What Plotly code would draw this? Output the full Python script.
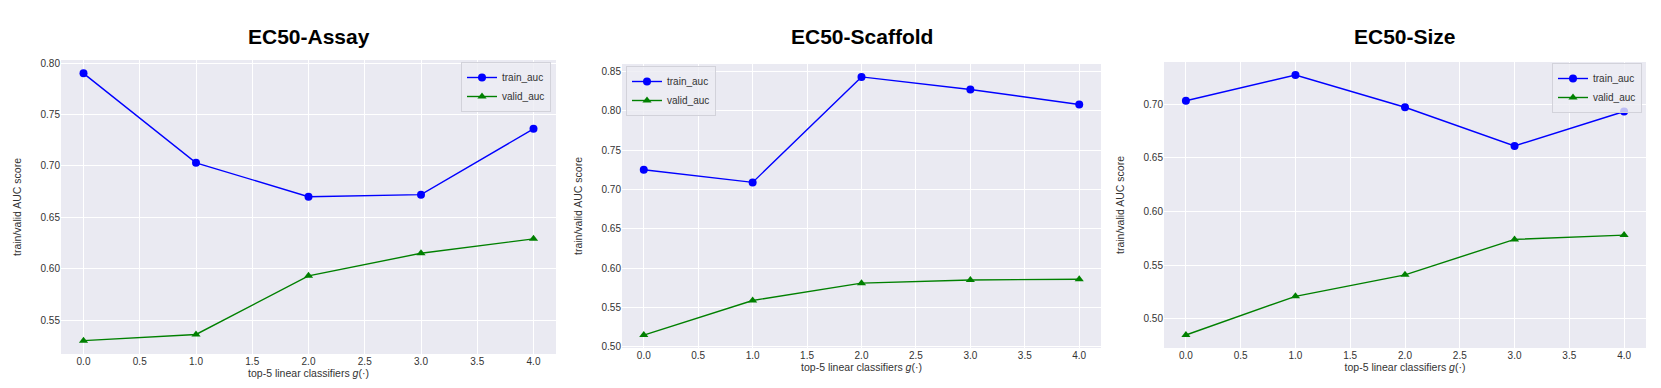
import plotly.graph_objects as go

classifiers = [0, 1, 2, 3, 4]
titles = ["EC50-Assay", "EC50-Scaffold", "EC50-Size"]
assay_train = [0.790, 0.703, 0.670, 0.672, 0.736]
assay_valid = [0.530, 0.536, 0.593, 0.615, 0.629]
scaffold_train = [0.725, 0.709, 0.843, 0.827, 0.808]
scaffold_valid = [0.515, 0.559, 0.581, 0.585, 0.586]
size_train = [0.703, 0.727, 0.697, 0.661, 0.693]
size_valid = [0.485, 0.521, 0.541, 0.574, 0.578]
x_ticks = [0.0, 0.5, 1.0, 1.5, 2.0, 2.5, 3.0, 3.5, 4.0]

W, H = 1661, 388
FONT = "Liberation Sans, Arial, sans-serif"
BG = "#EAEAF2"
TXT = "#333333"

# pixel boxes of each axes (left, right, top, bottom)
boxes = [(53, 548, 52, 346), (614, 1093, 56, 340), (1156, 1638, 54, 340)]
legend_pos = [
    dict(x=543 / W, y=1 - 54 / H, xanchor="right", yanchor="top"),
    dict(x=618 / W, y=1 - 58 / H, xanchor="left", yanchor="top"),
    dict(x=1634 / W, y=1 - 55 / H, xanchor="right", yanchor="top"),
]
series = [(assay_train, assay_valid), (scaffold_train, scaffold_valid), (size_train, size_valid)]

fig = go.Figure()
layout = dict(
    width=W, height=H, autosize=False,
    margin=dict(l=0, r=0, t=0, b=0),
    paper_bgcolor="white", plot_bgcolor=BG,
    font=dict(family=FONT, size=10, color=TXT),
    showlegend=True,
    annotations=[],
)

for i, ((tr, va), (l, r, t, b)) in enumerate(zip(series, boxes)):
    n = "" if i == 0 else str(i + 1)
    xa, ya = "x" + n, "y" + n
    lg = "legend" + n
    fig.add_trace(go.Scatter(
        x=classifiers, y=tr, mode="lines+markers", name="train_auc",
        line=dict(color="#0000FF", width=1.4),
        marker=dict(symbol="circle", size=8, color="#0000FF"),
        xaxis=xa, yaxis=ya, legend=lg))
    fig.add_trace(go.Scatter(
        x=classifiers, y=va, mode="lines+markers", name="valid_auc",
        line=dict(color="#008000", width=1.4),
        marker=dict(symbol="triangle-up", size=8, color="#008000"),
        xaxis=xa, yaxis=ya, legend=lg))

    lo = min(min(tr), min(va))
    hi = max(max(tr), max(va))
    pad = (hi - lo) * 0.05
    xpad = (max(classifiers) - min(classifiers)) * 0.05

    layout["xaxis" + n] = dict(
        domain=[l / W, r / W], anchor=ya, range=[min(classifiers) - xpad, max(classifiers) + xpad],
        tickvals=x_ticks, tickformat=".1f", showgrid=True, gridcolor="white", gridwidth=1,
        zeroline=False, showline=False, ticks="", tickfont=dict(size=10, color=TXT),
        title=dict(text="top-5 linear classifiers <i>g</i>(·)", font=dict(size=10.5, color=TXT), standoff=2),
        automargin=False,
    )
    layout["yaxis" + n] = dict(
        domain=[1 - b / H, 1 - t / H], anchor=xa, range=[lo - pad, hi + pad],
        dtick=0.05, tickformat=".2f", showgrid=True, gridcolor="white", gridwidth=1,
        zeroline=False, showline=False, ticks="", tickfont=dict(size=10, color=TXT),
        title=dict(text="train/valid AUC score", font=dict(size=10.5, color=TXT), standoff=16),
        automargin=False,
    )
    layout[lg] = dict(
        **legend_pos[i], bgcolor="rgba(236,236,243,0.8)", bordercolor="#D2D2DA", borderwidth=1,
        font=dict(size=10, color=TXT), itemwidth=30, tracegroupgap=0,
    )
    layout["annotations"].append(dict(
        text="<b>%s</b>" % titles[i], x=(l + r) / 2 / W, y=1 - 29 / H, xref="paper", yref="paper",
        xanchor="center", yanchor="middle", showarrow=False,
        font=dict(family=FONT, size=21, color="black")))

fig.update_layout(**layout)
fig.write_html("out.html")
